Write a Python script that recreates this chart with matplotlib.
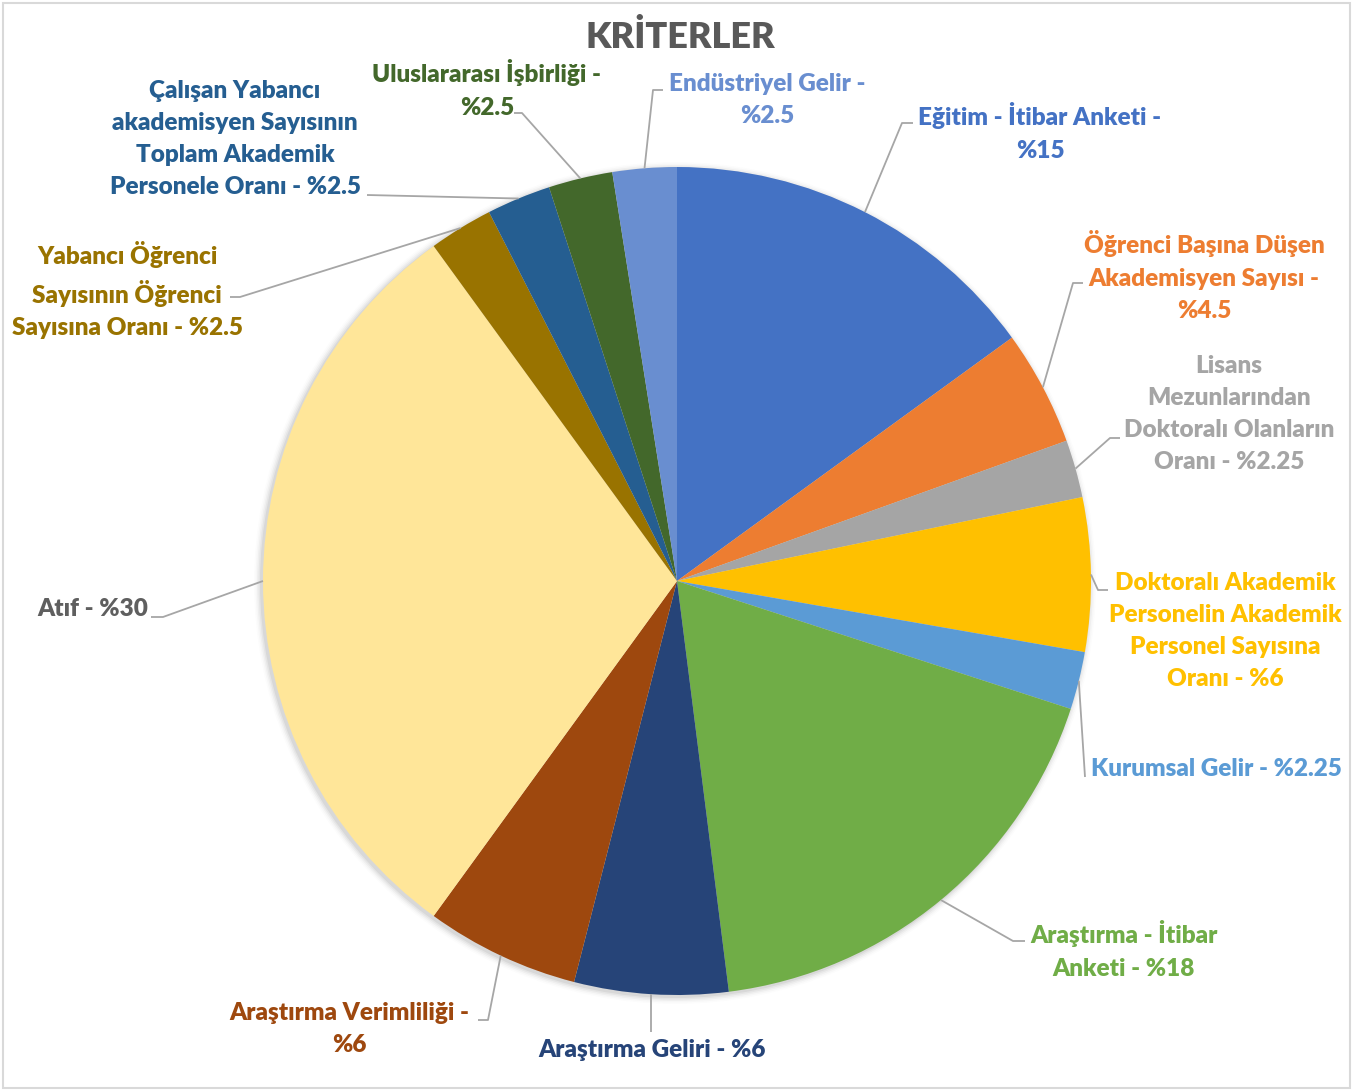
import matplotlib.pyplot as plt
from matplotlib.patches import Rectangle, Circle
import numpy as np

# Data: criteria and their weights (%), clockwise from 12 o'clock
categories = [
    'Eğitim - İtibar Anketi',
    'Öğrenci Başına Düşen\nAkademisyen Sayısı',
    'Lisans\nMezunlarından\nDoktoralı Olanların\nOranı',
    'Doktoralı Akademik\nPersonelin Akademik\nPersonel Sayısına\nOranı',
    'Kurumsal Gelir',
    'Araştırma - İtibar\nAnketi',
    'Araştırma Geliri',
    'Araştırma Verimliliği',
    'Atıf',
    'Yabancı Öğrenci\nSayısının Öğrenci\nSayısına Oranı',
    'Çalışan Yabancı\nakademisyen Sayısının\nToplam Akademik\nPersonele Oranı',
    'Uluslararası İşbirliği',
    'Endüstriyel Gelir',
]
values = [15, 4.5, 2.25, 6, 2.25, 18, 6, 6, 30, 2.5, 2.5, 2.5, 2.5]
# break the line before the value?
value_on_new_line = [True, True, False, False, False, False, False, True,
                     False, False, False, True, True]

colors = ['#4472C4', '#ED7D31', '#A5A5A5', '#FFC000', '#5B9BD5', '#70AD47',
          '#264478', '#9E480E', '#FFE699', '#997300', '#255E91', '#43682B',
          '#698ED0']
label_colors = colors[:8] + ['#5F5F5F'] + colors[9:]

# Layout in pixel coordinates (origin top-left)
W, H = 1363, 1091
center_px = (677, 581)
radius = 414
label_pos = [(1040, 132), (1204, 276), (1229, 414), (1225, 631), (1216, 769),
             (1124, 950), (652, 1050), (349, 1029), (93, 609), (127, 290),
             (235, 139), (487, 89), (767, 100)]
elbows = [(902, 123), (1073, 283), (1110, 438), (1098, 590), (1085, 777),
          (1013, 941), (651, 1032), (488, 1020), (163, 617), (240, 297),
          (367, 195), (522, 113), (653, 90)]
ends = [(913, 123), (1083, 283), (1120, 438), (1108, 590), (1085, 777),
        (1025, 941), (651, 1032), (478, 1020), (151, 617), (230, 297),
        (367, 195), (514, 113), (663, 90)]


def P(x, y):
    return x, H - y


plt.rcParams['font.family'] = ['Lato', 'DejaVu Sans']

fig = plt.figure(figsize=(W / 100, H / 100), dpi=100)
ax = fig.add_axes([0, 0, 1, 1])

# soft shadow around the pie
cx, cy = P(*center_px)
for i, a in enumerate([0.05, 0.04, 0.03, 0.02, 0.01]):
    ax.add_patch(Circle((cx - 2, cy - 2), radius + 1 + i * 1.5,
                        color='black', alpha=a, lw=0, zorder=1))

wedges, _ = ax.pie(values, colors=colors, startangle=90, counterclock=False,
                   radius=radius, center=(cx, cy),
                   wedgeprops=dict(linewidth=0, zorder=2))

for i, w in enumerate(wedges):
    ang = np.deg2rad((w.theta1 + w.theta2) / 2)
    sx = w.center[0] + w.r * np.cos(ang)
    sy = w.center[1] + w.r * np.sin(ang)
    ex, ey = P(*elbows[i])
    tx, ty = P(*ends[i])
    ax.plot([sx, ex, tx], [sy, ey, ty], color='#A6A6A6', lw=1.3, zorder=3,
            solid_capstyle='butt')
    sep = '\n' if value_on_new_line[i] else ' '
    text = f"{categories[i]} -{sep}%{values[i]:g}"
    lx, ly = P(*label_pos[i])
    ax.text(lx, ly, text, ha='center', va='center', multialignment='center',
            fontsize=17.5, fontweight='heavy', color=label_colors[i],
            linespacing=1.56, zorder=4)

ax.text(*P(680, 37), 'KRİTERLER', ha='center', va='center', fontsize=26,
        fontweight='heavy', color='#595959')

ax.add_patch(Rectangle(P(3, 1088), 1347, 1085, fill=False,
                       edgecolor='#D9D9D9', lw=1.5, zorder=0))

ax.set_xlim(0, W)
ax.set_ylim(0, H)
ax.set_aspect('equal')
ax.axis('off')

fig.savefig('out.png', dpi=100, facecolor='white')
